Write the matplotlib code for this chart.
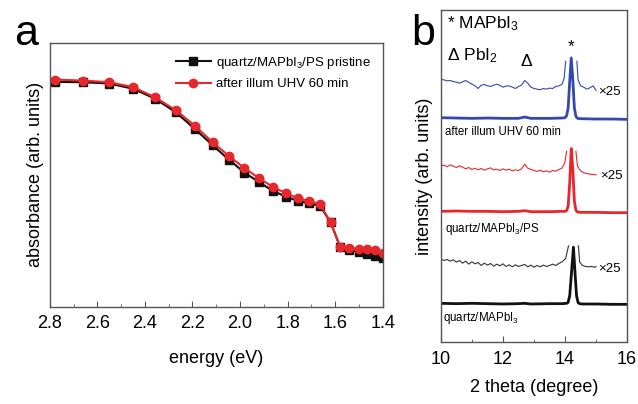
import matplotlib
matplotlib.use("Agg")
import matplotlib.pyplot as plt
import numpy as np

plt.rcParams['font.family'] = ['Liberation Sans', 'DejaVu Sans']
plt.rcParams['mathtext.fontset'] = 'custom'
plt.rcParams['mathtext.rm'] = 'Liberation Sans'
plt.rcParams['mathtext.it'] = 'Liberation Sans:italic'

# ---- panel a : absorbance vs energy ----
energy = [2.779, 2.660, 2.550, 2.449, 2.358, 2.270, 2.190, 2.115, 2.047, 1.982, 1.919, 1.863,
          1.808, 1.755, 1.709, 1.664, 1.619, 1.580, 1.540, 1.502, 1.467, 1.432, 1.400]
abs_pristine = [0.852, 0.851, 0.846, 0.826, 0.789, 0.737, 0.674, 0.612, 0.558, 0.509, 0.472, 0.440,
                0.418, 0.401, 0.392, 0.383, 0.320, 0.229, 0.216, 0.210, 0.201, 0.193, 0.185]
abs_illum = [0.861, 0.857, 0.851, 0.832, 0.794, 0.745, 0.686, 0.623, 0.572, 0.526, 0.487, 0.455,
             0.431, 0.411, 0.400, 0.389, 0.320, 0.229, 0.223, 0.221, 0.219, 0.214, 0.204]

# ---- panel b : XRD patterns (offset, arb. units) ----
tt_main = [10.0, 10.5, 11.0, 11.5, 12.0, 12.5, 12.7, 12.9, 13.5, 13.9, 14.0, 14.05, 14.1, 14.15,
           14.2, 14.25, 14.3, 14.35, 14.4, 14.5, 15.0, 15.5, 16.0]
blue_main = [6.76, 6.75, 6.74, 6.75, 6.74, 6.74, 6.78, 6.74, 6.74, 6.75, 6.76, 6.82, 7.05, 7.85,
             8.56, 7.90, 7.05, 6.80, 6.74, 6.73, 6.72, 6.72, 6.71]
red_main = [3.94, 3.95, 3.94, 3.94, 3.93, 3.94, 3.96, 3.93, 3.93, 3.94, 3.94, 3.96, 4.10, 4.80,
            5.83, 5.20, 4.25, 3.97, 3.92, 3.91, 3.91, 3.90, 3.90]
tt_main_k = [10.0, 10.5, 11.0, 11.5, 12.0, 12.5, 12.7, 12.9, 13.5, 13.9, 14.05, 14.1, 14.15, 14.2,
             14.27, 14.32, 14.37, 14.42, 14.47, 14.55, 15.0, 15.5, 16.0]
black_main = [1.17, 1.16, 1.17, 1.16, 1.15, 1.16, 1.17, 1.15, 1.16, 1.16, 1.17, 1.20, 1.40, 2.00,
              2.86, 2.10, 1.40, 1.19, 1.16, 1.15, 1.15, 1.14, 1.14]

tt_zoom = [10.0, 10.1, 10.2, 10.3, 10.4, 10.5, 10.6, 10.7, 10.8, 10.9, 11.0, 11.1, 11.2, 11.3,
           11.4, 11.5, 11.6, 11.7, 11.8, 11.9, 12.0, 12.1, 12.2, 12.3, 12.4, 12.5, 12.6, 12.7,
           12.8, 12.9, 13.0, 13.1, 13.2, 13.3, 13.4, 13.5, 13.6, 13.7, 13.8, 13.9]
blue_x25 = [7.91, 7.90, 7.87, 7.88, 7.85, 7.83, 7.80, 7.84, 7.88, 7.82, 7.77, 7.72, 7.64, 7.74,
            7.76, 7.72, 7.70, 7.74, 7.77, 7.73, 7.68, 7.71, 7.72, 7.68, 7.64, 7.70, 7.74, 7.88,
            7.80, 7.68, 7.64, 7.62, 7.60, 7.64, 7.62, 7.65, 7.64, 7.70, 7.72, 7.76]
red_x25 = [5.31, 5.33, 5.28, 5.34, 5.30, 5.26, 5.31, 5.27, 5.22, 5.26, 5.20, 5.24, 5.19, 5.23,
           5.18, 5.22, 5.25, 5.19, 5.21, 5.17, 5.22, 5.18, 5.21, 5.16, 5.19, 5.17, 5.22, 5.36,
           5.24, 5.20, 5.17, 5.14, 5.18, 5.13, 5.16, 5.12, 5.17, 5.15, 5.20, 5.24]
black_x25 = [2.51, 2.46, 2.49, 2.44, 2.48, 2.41, 2.46, 2.38, 2.44, 2.35, 2.42, 2.36, 2.40, 2.31,
             2.38, 2.32, 2.37, 2.29, 2.35, 2.30, 2.36, 2.28, 2.33, 2.27, 2.33, 2.28, 2.31, 2.34,
             2.27, 2.32, 2.26, 2.31, 2.27, 2.32, 2.28, 2.31, 2.35, 2.31, 2.37, 2.42]
# rising edges cut near the main peak, and tails after it
blue_edge_tt = [13.97, 14.02]
blue_edge = [7.95, 8.46]
red_edge_tt = [13.99, 14.05]
red_edge = [5.40, 5.75]
black_edge_tt = [14.02, 14.11]
black_edge = [2.52, 2.90]
blue_tail_tt = [14.38, 14.42, 14.5, 14.6, 14.7, 14.8, 14.9, 15.0]
blue_tail = [8.46, 7.90, 7.72, 7.68, 7.62, 7.66, 7.72, 7.58]
red_tail_tt = [14.35, 14.4, 14.5, 14.6, 14.7, 14.8, 14.9, 15.0]
red_tail = [5.75, 5.30, 5.16, 5.10, 5.08, 5.06, 5.05, 5.04]
black_tail_tt = [14.43, 14.47, 14.55, 14.65, 14.75, 14.85, 14.95, 15.0]
black_tail = [2.90, 2.42, 2.32, 2.28, 2.27, 2.28, 2.26, 2.27]

sample_labels = ["after illum UHV 60 min", "quartz/MAPbI$_3$/PS", "quartz/MAPbI$_3$"]

black = "#111111"
red = "#e8262b"
blue = "#3448b0"
spine_col = "#555555"

fig = plt.figure(figsize=(6.38, 4.04), dpi=100)
ax1 = fig.add_axes([0.078, 0.240, 0.522, 0.654])
ax2 = fig.add_axes([0.691, 0.153, 0.292, 0.822])

# panel a
ax1.plot(energy, abs_pristine, color=black, marker='s', markersize=5.3, linewidth=1.5,
         label="quartz/MAPbI$_3$/PS pristine")
ax1.plot(energy, abs_illum, color=red, marker='o', markersize=6, linewidth=1.5,
         label="after illum UHV 60 min")
ax1.set_xlim(2.8, 1.4)
ax1.set_ylim(0, 1)
ax1.set_xticks([2.8, 2.6, 2.4, 2.2, 2.0, 1.8, 1.6, 1.4])
ax1.set_xticks([2.7, 2.5, 2.3, 2.1, 1.9, 1.7, 1.5], minor=True)
ax1.set_yticks([])
ax1.set_xlabel("energy (eV)", fontsize=13, labelpad=13)
ax1.set_ylabel("absorbance (arb. units)", fontsize=13, labelpad=4)
ax1.legend(loc='upper right', frameon=False, fontsize=9.5, handlelength=2.6,
           handletextpad=0.4, labelspacing=0.55, borderaxespad=0.5)

# panel b
ax2.plot(tt_main, blue_main, color=blue, linewidth=2)
ax2.plot(tt_main, red_main, color=red, linewidth=2)
ax2.plot(tt_main_k, black_main, color=black, linewidth=2)
for xs, ys, ex, ey, tx, ty, c in [
        (tt_zoom, blue_x25, blue_edge_tt, blue_edge, blue_tail_tt, blue_tail, blue),
        (tt_zoom, red_x25, red_edge_tt, red_edge, red_tail_tt, red_tail, red),
        (tt_zoom, black_x25, black_edge_tt, black_edge, black_tail_tt, black_tail, "#333333")]:
    ax2.plot(list(xs) + ex, list(ys) + ey, color=c, linewidth=0.8)
    ax2.plot(tx, ty, color=c, linewidth=0.8)

ax2.text(15.06, 7.53, "×25", fontsize=9.5, va='center', ha='left')
ax2.text(15.13, 5.00, "×25", fontsize=9.5, va='center', ha='left')
ax2.text(15.06, 2.20, "×25", fontsize=9.5, va='center', ha='left')
ax2.text(10.13, 6.33, sample_labels[0], fontsize=8.3, va='center', ha='left')
ax2.text(10.13, 3.40, sample_labels[1], fontsize=8.3, va='center', ha='left')
ax2.text(10.08, 0.72, sample_labels[2], fontsize=8.3, va='center', ha='left')
ax2.text(10.19, 9.58, "* MAPbI$_3$", fontsize=12.5, va='center', ha='left')
ax2.text(10.19, 8.64, "Δ PbI$_2$", fontsize=12.5, va='center', ha='left')
ax2.text(12.76, 8.44, "Δ", fontsize=12.5, va='center', ha='center')
ax2.text(14.21, 8.9, "*", fontsize=12.5, va='center', ha='center')

ax2.set_xlim(10, 16)
ax2.set_ylim(0, 10)
ax2.set_xticks([10, 12, 14, 16])
ax2.set_xticks([11, 13, 15], minor=True)
ax2.set_yticks([])
ax2.set_xlabel("2 theta (degree)", fontsize=13, labelpad=8)
ax2.set_ylabel("intensity (arb. units)", fontsize=13, labelpad=6)

for ax in (ax1, ax2):
    for s in ax.spines.values():
        s.set_color(spine_col)
        s.set_linewidth(1.0)
    ax.tick_params(axis='x', which='major', direction='in', length=4, labelsize=13,
                   color=spine_col, pad=6)
    ax.tick_params(axis='x', which='minor', direction='in', length=2.5, color=spine_col)

fig.text(14 / 638, 1 - 45 / 404, "a", fontsize=31, ha='left', va='baseline')
fig.text(411 / 638, 1 - 45 / 404, "b", fontsize=31, ha='left', va='baseline')

fig.savefig("out.png", dpi=100)
